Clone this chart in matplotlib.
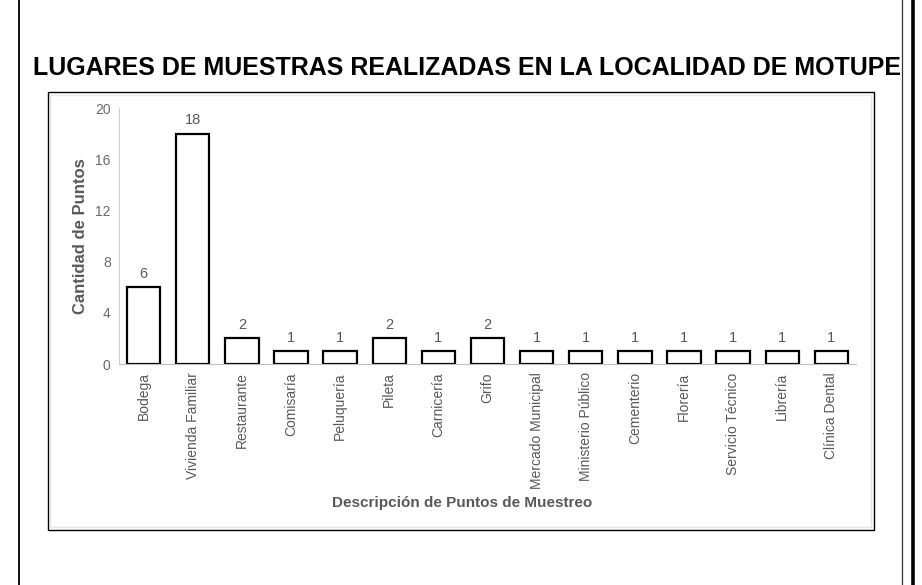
import matplotlib
matplotlib.use('Agg')
from matplotlib import pyplot
from matplotlib.lines import Line2D
from matplotlib.patches import Rectangle

pyplot.rcParams['font.family'] = ['Liberation Sans', 'DejaVu Sans']

lugares = ['Bodega', 'Vivienda Familiar', 'Restaurante', 'Comisaría', 'Peluquería',
           'Pileta', 'Carnicería', 'Grifo', 'Mercado Municipal', 'Ministerio Público',
           'Cementerio', 'Florería', 'Servicio Técnico', 'Librería', 'Clínica Dental']
puntos = [6, 18, 2, 1, 1, 2, 1, 2, 1, 1, 1, 1, 1, 1, 1]

W, H = 922, 585
fig = pyplot.figure(figsize=(W / 100, H / 100), dpi=100)

# page borders
fig.add_artist(Line2D([19 / W, 19 / W], [0, 1], color='black', lw=1.3))
fig.add_artist(Line2D([902 / W, 902 / W], [0, 1], color='#333333', lw=0.9))
fig.add_artist(Line2D([913 / W, 913 / W], [0, 1], color='black', lw=2.6))

# chart frame
fig.add_artist(Rectangle((48 / W, 1 - 530 / H), (874 - 48) / W, (530 - 92) / H,
                         fill=False, edgecolor='black', lw=1.0))
fig.add_artist(Rectangle((50 / W, 1 - 527 / H), (871 - 50) / W, (527 - 95) / H,
                         fill=False, edgecolor='#e6e6e6', lw=1.0))

fig.text(467 / W, 1 - 68 / H, 'LUGARES DE MUESTRAS REALIZADAS EN LA LOCALIDAD DE MOTUPE',
         ha='center', va='center', fontsize=18, fontweight='bold', color='black')

ax = fig.add_axes([119 / W, 1 - 364 / H, (856 - 119) / W, (364 - 108) / H])
x = range(len(lugares))
barras = ax.bar(x, puntos, width=0.68, color='white', edgecolor='black', linewidth=1.6)
for xi, v in zip(x, puntos):
    ax.text(xi, v + 0.5, str(v), ha='center', va='bottom', fontsize=10.5, color='#595959')

ax.set_xlim(-0.5, len(lugares) - 0.5)
ax.set_ylim(0, 20)
ax.set_yticks([0, 4, 8, 12, 16, 20])
ax.set_xticks(list(x))
ax.set_xticklabels(lugares, rotation=90, fontsize=10, color='#595959')
ax.tick_params(axis='y', labelsize=10, labelcolor='#6a6a6a', length=0, pad=6)
ax.tick_params(axis='x', length=0, pad=6)

for s in ['top', 'right']:
    ax.spines[s].set_visible(False)
ax.spines['left'].set_color('#d0d0d0')
ax.spines['bottom'].set_color('#c0c0c0')

fig.text(80 / W, 1 - 236 / H, 'Cantidad de Puntos', rotation=90,
         ha='center', va='center', fontsize=12, fontweight='bold', color='#595959')
fig.text(462 / W, 1 - 503 / H, 'Descripción de Puntos de Muestreo',
         ha='center', va='center', fontsize=11, fontweight='bold', color='#595959')

fig.savefig('out.png', dpi=100, facecolor='white')
